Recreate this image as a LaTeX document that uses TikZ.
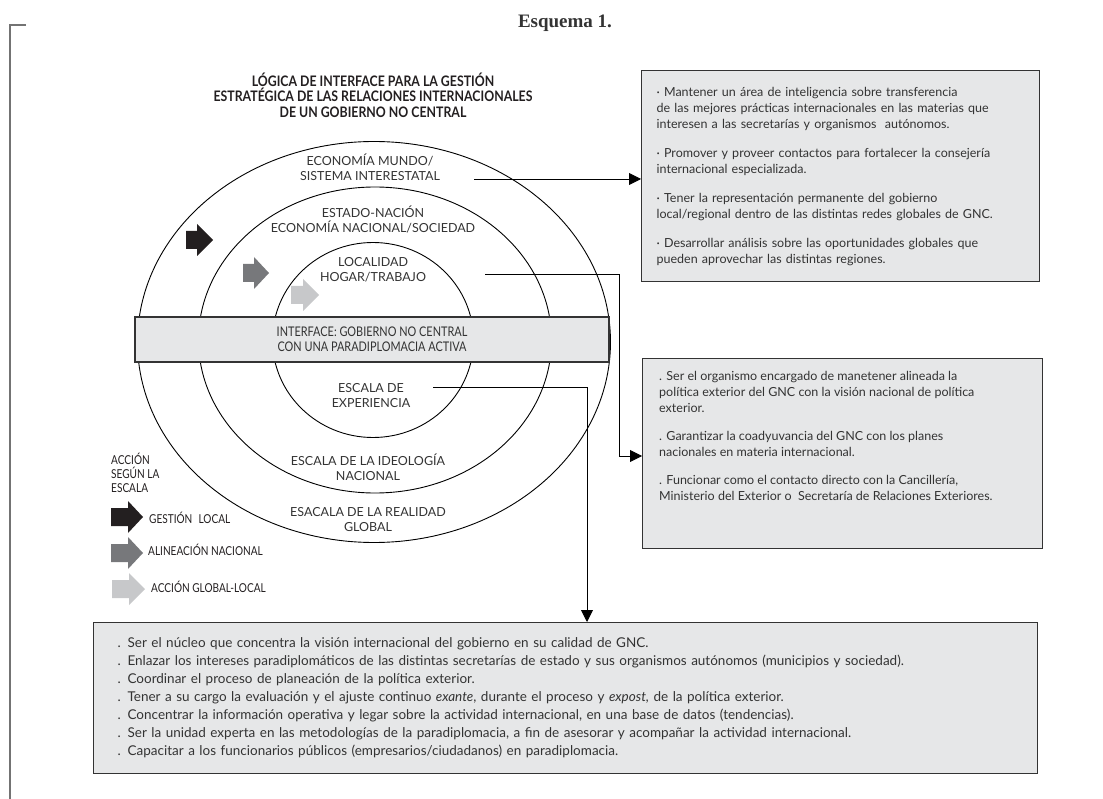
\documentclass[tikz,border=0pt]{standalone}
\usepackage{fontspec}
\setmainfont{Lato}
\newfontfamily\narrowfont{Lato}[FakeStretch=0.82]
\newfontfamily\titlefont{Lato}[FakeStretch=0.85]
\newfontfamily\headfont{Liberation Serif}
\usetikzlibrary{shapes.geometric, arrows.meta}
\definecolor{panelgray}{HTML}{E6E7E8}
\definecolor{arrblack}{HTML}{231F20}
\definecolor{arrdark}{HTML}{77787B}
\definecolor{arrlight}{HTML}{C7C8CA}
\definecolor{inkgray}{HTML}{333333}

\begin{document}
\begin{tikzpicture}[x=1pt, y=-1pt,
ring/.style={ellipse, draw, line width=0.9pt, inner sep=0pt},
panel/.style={draw=black!80, line width=1.3pt, fill=panelgray, align=left, inner ysep=0pt},
lbl/.style={align=center, inner sep=0pt, text=inkgray, font=\fontsize{12.5}{15}\selectfont},
legend/.style={anchor=west, inner sep=0pt, text=arrblack, font=\narrowfont\fontsize{12.3}{14}\selectfont},
conn/.style={line width=0.9pt, -{Triangle[length=12pt, width=12pt]}},
pics/blockarr/.style n args={3}{code={
  \fill[#1] (0,-9) -- (#2,-9) -- (#2,-16) -- (#3,0) -- (#2,16) -- (#2,9) -- (0,9) -- cycle;}}]
\useasboundingbox (0,0) rectangle (1103,799);

% frame and heading
\draw[black!55, line width=1.2pt] (26,25) -- (10,25) -- (10,799);
\node[font=\headfont\bfseries\fontsize{19}{22}\selectfont, text=inkgray] (esquema) at (565,23) {Esquema 1.};
\node[align=center, font=\titlefont\bfseries\fontsize{14.5}{15.5}\selectfont, text=arrblack] (title) at (373,95)
  {LÓGICA DE INTERFACE PARA LA GESTIÓN\\ESTRATÉGICA DE LAS RELACIONES INTERNACIONALES\\DE UN GOBIERNO NO CENTRAL};

% scales
\node[ring, minimum width=473, minimum height=401] (outer) at (374,342) {};
\node[ring, minimum width=353, minimum height=306] (middle) at (375,340) {};
\node[ring, minimum width=201, minimum height=195] (inner) at (373,340) {};

\node[lbl] (eco) at (370,167.5) {ECONOMÍA MUNDO/\\SISTEMA INTERESTATAL};
\node[lbl] (estado) at (373,219.5) {ESTADO-NACIÓN\\ECONOMÍA NACIONAL/SOCIEDAD};
\node[lbl] (local) at (373,270) {LOCALIDAD\\HOGAR/TRABAJO};
\node[lbl] (exper) at (371,395.5) {ESCALA DE\\EXPERIENCIA};
\node[lbl] (ideol) at (368,467.5) {ESCALA DE LA IDEOLOGÍA\\NACIONAL};
\node[lbl] (global) at (368,519.5) {ESACALA DE LA REALIDAD\\GLOBAL};

\pic at (186,240) {blockarr={arrblack}{11}{27}};
\pic at (243,273) {blockarr={arrdark}{11}{26}};
\pic at (291,295) {blockarr={arrlight}{12}{28}};

% interface
\node[panel, minimum width=474, minimum height=45, align=center, text=inkgray,
  font=\narrowfont\fontsize{13.3}{15}\selectfont] (iface) at (372,339.5)
  {INTERFACE: GOBIERNO NO CENTRAL\\CON UNA PARADIPLOMACIA ACTIVA};

% legend
\node[legend, anchor=north west, align=left] (legtitle) at (111,453) {ACCIÓN\\SEGÚN LA\\ESCALA};
\pic at (111,517) {blockarr={arrblack}{17}{32}};
\pic at (111,553) {blockarr={arrdark}{17}{32}};
\pic at (112,589) {blockarr={arrlight}{17}{33}};
\node[legend] (leglocal) at (149,518) {GESTIÓN\enspace LOCAL};
\node[legend] (legnac) at (148,550) {ALINEACIÓN NACIONAL};
\node[legend] (legglob) at (151,587) {ACCIÓN GLOBAL-LOCAL};

% boxes
\node[panel, anchor=north west, minimum width=398, minimum height=211, text width=368, inner xsep=15pt,
  text=inkgray, font=\fontsize{12.5}{16}\selectfont] (boxA) at (641,70)
  {· Mantener un área de inteligencia sobre transferencia\\
   de las mejores prácticas internacionales en las materias que\\
   interesen a las secretarías y organismos\ \ autónomos.\\[13pt]
   · Promover y proveer contactos para fortalecer la consejería\\
   internacional especializada.\\[13pt]
   · Tener la representación permanente del gobierno\\
   local/regional dentro de las distintas redes globales de GNC.\\[13pt]
   · Desarrollar análisis sobre las oportunidades globales que\\
   pueden aprovechar las distintas regiones.};

\node[panel, anchor=north west, minimum width=400, minimum height=190] (boxB) at (642,358) {};
\node[anchor=north west, align=left, inner sep=0pt, text=inkgray, font=\fontsize{12.5}{16}\selectfont] (txtB)
  at ([xshift=17pt, yshift=-13pt]boxB.north west)
  {. Ser el organismo encargado de manetener alineada la\\
   política exterior del GNC con la visión nacional de política\\
   exterior.\\[12pt]
   . Garantizar la coadyuvancia del GNC con los planes\\
   nacionales en materia internacional.\\[12pt]
   . Funcionar como el contacto directo con la Cancillería,\\
   Ministerio del Exterior o\ \ Secretaría de Relaciones Exteriores.};

\node[panel, anchor=north west, minimum width=944, minimum height=151, text width=896, inner xsep=24pt,
  text=inkgray, font=\fontsize{13.5}{18}\selectfont] (boxC) at (93,622)
  {. Ser el núcleo que concentra la visión internacional del gobierno en su calidad de GNC.\\
   . Enlazar los intereses paradiplomáticos de las distintas secretarías de estado y sus organismos autónomos (municipios y sociedad).\\
   . Coordinar el proceso de planeación de la política exterior.\\
   . Tener a su cargo la evaluación y el ajuste continuo \textit{exante}, durante el proceso y \textit{expost,} de la política exterior.\\
   . Concentrar la información operativa y legar sobre la actividad internacional, en una base de datos (tendencias).\\
   . Ser la unidad experta en las metodologías de la paradiplomacia, a fin de asesorar y acompañar la actividad internacional.\\
   . Capacitar a los funcionarios públicos (empresarios/ciudadanos) en paradiplomacia.};

% connectors
\coordinate (fromEco) at (474,179);
\coordinate (fromLocal) at (485,274);
\coordinate (bendLocal) at (619,456);
\coordinate (fromExper) at (433,387);
\coordinate (bendExper) at (587,387);
\draw[conn] (fromEco) -- (fromEco -| boxA.west);
\draw[conn] (fromLocal) -| (bendLocal) -- (bendLocal -| boxB.west);
\draw[conn] (fromExper) -- (bendExper) -- (bendExper |- boxC.north);
\end{tikzpicture}
\end{document}
